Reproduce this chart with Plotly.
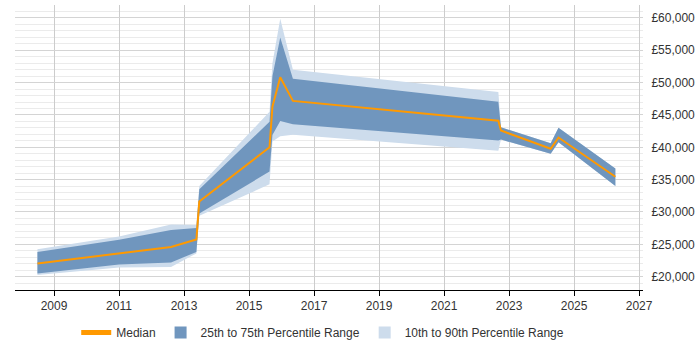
import plotly.graph_objects as go

years = [2008.49, 2011.0, 2012.6, 2013.38, 2013.47, 2015.63, 2015.72, 2015.96, 2016.35, 2022.67, 2022.75, 2024.28, 2024.52, 2026.27]
median = [22030, 23560, 24590, 25760, 31620, 40000, 46300, 50840, 47170, 44110, 42600, 39770, 41510, 35440]
p25 = [20500, 21880, 22200, 23820, 29750, 36250, 41900, 44060, 43550, 41050, 41200, 39000, 40800, 34020]
p75 = [23800, 25700, 27230, 27540, 33500, 43960, 51000, 56960, 50580, 47050, 43100, 40640, 43040, 36710]
p10 = [20260, 21420, 21500, 23600, 29430, 34270, 40900, 41700, 41950, 39460, 41200, 39000, 40800, 34020]
p90 = [24230, 26220, 28060, 28000, 34000, 45490, 53000, 59860, 52000, 48550, 43100, 40640, 43040, 36710]

xticks = [2009, 2011, 2013, 2015, 2017, 2019, 2021, 2023, 2025, 2027]
yticks = [20000, 25000, 30000, 35000, 40000, 45000, 50000, 55000, 60000]
ytick_labels = ["£20,000", "£25,000", "£30,000", "£35,000", "£40,000", "£45,000", "£50,000", "£55,000", "£60,000"]

DARK = "#7096be"
LIGHT = "#cddcec"
ORANGE = "#ff9900"

fig = go.Figure()
fig.add_trace(go.Scatter(
    x=years + years[::-1], y=p90 + p10[::-1], fill="toself",
    fillcolor=LIGHT, line=dict(width=0), mode="lines",
    showlegend=False, hoverinfo="skip"))
fig.add_trace(go.Scatter(
    x=years + years[::-1], y=p75 + p25[::-1], fill="toself",
    fillcolor=DARK, line=dict(width=0), mode="lines",
    showlegend=False, hoverinfo="skip"))
fig.add_trace(go.Scatter(
    x=years, y=median, mode="lines", line=dict(color=ORANGE, width=2),
    name="Median", legendrank=1))
# legend-only entries
fig.add_trace(go.Scatter(
    x=[None], y=[None], mode="markers",
    marker=dict(symbol="square", size=18, color=DARK),
    name="25th to 75th Percentile Range", legendrank=2))
fig.add_trace(go.Scatter(
    x=[None], y=[None], mode="markers",
    marker=dict(symbol="square", size=18, color=LIGHT),
    name="10th to 90th Percentile Range", legendrank=3))

fig.update_layout(
    width=700, height=350,
    margin=dict(l=15, r=55, t=5, b=57),
    paper_bgcolor="white", plot_bgcolor="white",
    font=dict(family="Liberation Sans, Arial, sans-serif", size=12, color="#333333"),
    showlegend=True,
    legend=dict(orientation="h", x=0.49, xanchor="center", yref="container",
                y=0.05, yanchor="middle",
                font=dict(size=12, color="#333333"), traceorder="normal",
                itemwidth=30, itemsizing="constant"),
    xaxis=dict(range=[2007.8, 2027.12], tickvals=xticks, ticktext=[str(t) for t in xticks],
               showgrid=True, gridcolor="#cccccc", gridwidth=1,
               showline=True, linecolor="#000000", linewidth=1,
               ticks="outside", ticklen=5, tickcolor="#000000", zeroline=False),
    yaxis=dict(range=[18000, 62000], side="right", tickvals=yticks, ticktext=ytick_labels,
               showgrid=True, gridcolor="#d4d4d4", gridwidth=1,
               showline=False, ticks="outside", ticklen=5, tickcolor="rgba(0,0,0,0)",
               zeroline=False,
               minor=dict(dtick=1000, tick0=0, showgrid=True, gridcolor="#ebebeb", gridwidth=1)),
)

fig.write_html("out.html")
